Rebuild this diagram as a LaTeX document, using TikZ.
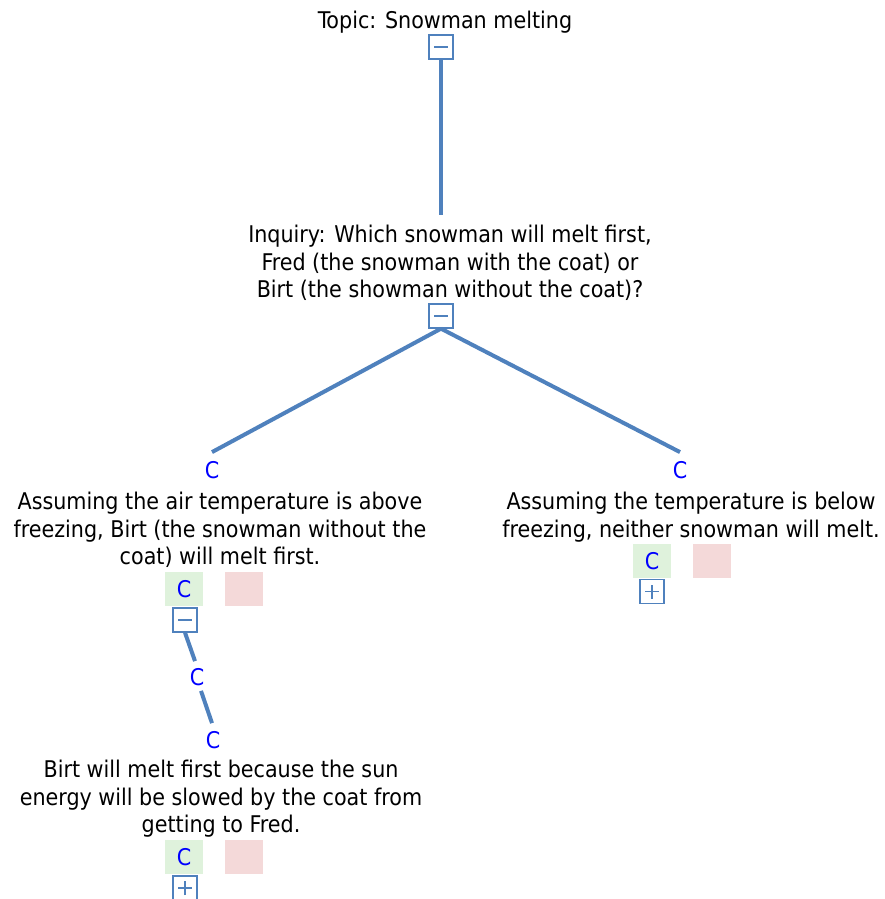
\documentclass[tikz,border=0pt]{standalone}
\usepackage{fontspec}
\setmainfont{DejaVu Sans Condensed}
\usetikzlibrary{positioning}
\definecolor{linkblue}{HTML}{4F81BD}
\definecolor{okgreen}{HTML}{DFF2DC}
\definecolor{nopink}{HTML}{F4D9D9}
\tikzset{
  claim/.style={align=center, inner sep=0pt, font=\fontsize{23}{27.5}\selectfont},
  togglebox/.style={draw=linkblue, line width=1.3pt, minimum size=24pt, inner sep=0pt},
  minusbox/.style={togglebox, path picture={
    \draw[linkblue, line width=1.3pt] ([xshift=-7pt]path picture bounding box.center) -- ([xshift=7pt]path picture bounding box.center);}},
  plusbox/.style={togglebox, path picture={
    \draw[linkblue, line width=1.3pt] ([xshift=-7pt]path picture bounding box.center) -- ([xshift=7pt]path picture bounding box.center);
    \draw[linkblue, line width=1.3pt] ([yshift=-7pt]path picture bounding box.center) -- ([yshift=7pt]path picture bounding box.center);}},
  letter/.style={text=blue, inner sep=0pt, font=\fontsize{23}{23}\selectfont},
  votegood/.style={fill=okgreen, minimum width=38pt, minimum height=34pt, inner sep=0pt, text=blue, font=\fontsize{23}{23}\selectfont},
  votebad/.style={fill=nopink, minimum width=38pt, minimum height=34pt, inner sep=0pt},
  branch/.style={draw=linkblue, line width=4pt}
}
\begin{document}
\begin{tikzpicture}[x=1pt,y=-1pt]
\useasboundingbox (0,0) rectangle (885,899);
% topic
\node[claim] (topic) at (445,22) {Topic: Snowman melting};
\node[minusbox] (topbox) at (441,47) {};
% inquiry
\node[claim] (inquiry) at (450,263) {Inquiry: Which snowman will melt first,\\Fred (the snowman with the coat) or\\Birt (the showman without the coat)?};
\node[minusbox] (inqbox) at (441,316) {};
\coordinate (inqtop) at (441,215);
\draw[branch] (topbox.south) -- (inqtop);
% left claim
\node[letter] (lc) at (212,470) {C};
\node[claim] (left) at (220,530) {Assuming the air temperature is above\\freezing, Birt (the snowman without the\\coat) will melt first.};
\node[votegood] (lgood) at (184,589) {C};
\node[votebad] (lbad) at (244,589) {};
\node[minusbox] (lbox) at (185,620) {};
% right claim
\node[letter] (rc) at (680,470) {C};
\node[claim] (right) at (691,517) {Assuming the temperature is below\\freezing, neither snowman will melt.};
\node[votegood] (rgood) at (652,561) {C};
\node[votebad] (rbad) at (712,561) {};
\node[plusbox] (rbox) at (652,591.5) {};
\draw[branch] (inqbox.south) -- ([yshift=9pt]lc.north);
\draw[branch] (inqbox.south) -- ([yshift=9pt]rc.north);
% sub claim
\node[letter] (mc) at (197,677) {C};
\node[letter] (bc) at (213,740) {C};
\draw[branch] (lbox.south) -- ([xshift=-2pt,yshift=7pt]mc.north);
\draw[branch] ([xshift=4pt,yshift=-5pt]mc.south) -- ([xshift=-1pt,yshift=8pt]bc.north);
\node[claim] (bottom) at (221,799) {Birt will melt first because the sun\\energy will be slowed by the coat from\\getting to Fred.};
\node[votegood] (bgood) at (184,857) {C};
\node[votebad] (bbad) at (244,857) {};
\node[plusbox] (bbox) at (185,888) {};
\end{tikzpicture}
\end{document}
